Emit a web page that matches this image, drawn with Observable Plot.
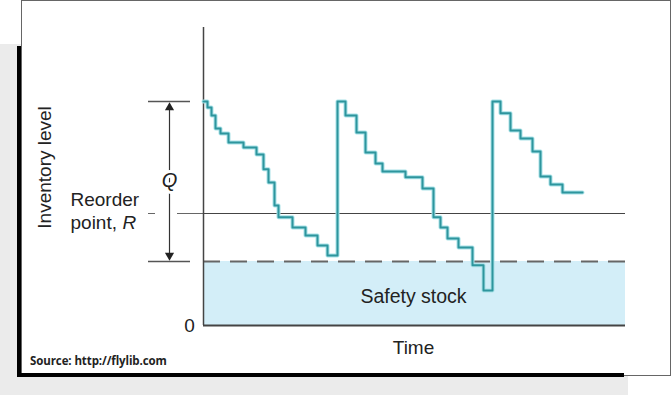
<!DOCTYPE html>
<html>
<head>
<meta charset="utf-8">
<script src="https://cdn.jsdelivr.net/npm/d3@7"></script>
<script src="https://cdn.jsdelivr.net/npm/@observablehq/plot@0.6"></script>
<style>
  html, body { margin: 0; padding: 0; background: #fff; }
  #wrap { position: relative; width: 671px; height: 395px; overflow: hidden; font-family: "Liberation Sans", Arial, sans-serif; }
  .abs { position: absolute; }
  #shadow { left: 0; top: 44px; width: 628px; height: 351px; background: #ebebeb; }
  #front { left: 21px; top: 0; width: 650px; height: 376px; border: 1px solid #666; box-sizing: border-box; background: #fff; }
  #barL { left: 17px; top: 46px; width: 4px; height: 331px; background: #000; }
  #barB { left: 17px; top: 373px; width: 607px; height: 4px; background: #000; }
  #source { left: 30px; top: 353px; font-family: "Open Sans", sans-serif; font-weight: 700; font-size: 11.5px; color: #222; letter-spacing: -0.1px; }
  #chart { left: 0; top: 0; }
</style>
</head>
<body>
<div id="wrap">
  <div id="shadow" class="abs"></div>
  <div id="front" class="abs"></div>
  <div id="barL" class="abs"></div>
  <div id="barB" class="abs"></div>
  <div id="source" class="abs">Source: http://flylib.com</div>
  <div id="chart" class="abs"></div>
</div>
<script>
// Inventory level over time (step function)
const times  = [0, 4, 8, 12, 17, 25, 40, 53, 60, 65, 71, 75, 89, 102, 114, 124,
                134, 142, 153, 162, 172, 179, 202, 219, 230, 237, 244, 255, 269, 280,
                289, 297, 307, 317, 329, 337, 347, 359, 379];
const levels = [70, 68.1, 65.6, 61.6, 60, 57.2, 55.6, 53.4, 48.8, 44.7, 37.5, 33.8, 30.6, 28.1, 25, 21.9,
                70, 65.6, 60.3, 54.1, 50.6, 48.1, 46.3, 42.8, 33.8, 30.6, 27.2, 24.4, 18.8, 10.9,
                70, 66.3, 60.9, 58.4, 54.4, 46.6, 44.1, 41.6, 41.6];
const safetyStock = 20;
const reorderPoint = 35;
const maxLevel = 70;   // safety stock + Q
const timeEnd = 422;
const yTop = 93.125;

const series = times.map((t, i) => ({t, v: levels[i]}));

const font = "Liberation Sans, Arial, sans-serif";
const ink = "#222";
const arrowX = -34;

const chart = Plot.plot({
  width: 671,
  height: 395,
  marginLeft: 203,
  marginRight: 46,
  marginTop: 27,
  marginBottom: 70,
  x: {domain: [0, timeEnd], axis: null},
  y: {domain: [0, yTop], axis: null},
  style: {background: "transparent", overflow: "visible", fontFamily: font},
  marks: [
    // safety stock band
    Plot.rect([{x1: 0, x2: timeEnd, y1: 0, y2: safetyStock}], {x1: "x1", x2: "x2", y1: "y1", y2: "y2", fill: "#d3eef8"}),
    // safety stock line
    Plot.ruleY([safetyStock], {x1: 0, x2: timeEnd, stroke: "#666", strokeWidth: 2, strokeDasharray: "17,10"}),
    Plot.ruleY([safetyStock], {x1: -55, x2: -13, stroke: "#555", strokeWidth: 1.5}),
    // reorder point line
    Plot.ruleY([reorderPoint], {x1: 0, x2: timeEnd, stroke: "#444", strokeWidth: 1}),
    Plot.ruleY([reorderPoint], {x1: -55, x2: -48, stroke: "#666", strokeWidth: 1}),
    Plot.ruleY([reorderPoint], {x1: -26, x2: 0, stroke: "#666", strokeWidth: 1}),
    // Q top line
    Plot.ruleY([maxLevel], {x1: -55, x2: -13, stroke: "#555", strokeWidth: 1.5}),
    // axis lines
    Plot.ruleX([0], {y1: 0, y2: yTop, stroke: "#444", strokeWidth: 1.5}),
    Plot.ruleY([0], {x1: 0, x2: timeEnd, stroke: "#444", strokeWidth: 2}),
    // Q double arrow
    Plot.ruleX([arrowX], {y1: safetyStock + 1, y2: maxLevel - 1, stroke: "#333", strokeWidth: 1.2}),
    Plot.dot([{x: arrowX, y: maxLevel - 1.9}], {x: "x", y: "y", symbol: "triangle", r: 3.4, fill: "#222", stroke: "none"}),
    Plot.dot([{x: arrowX, y: safetyStock + 1.9}], {x: "x", y: "y", symbol: "triangle", r: 3.4, rotate: 180, fill: "#222", stroke: "none"}),
    Plot.text([{x: arrowX, y: 45.3, s: "Q"}], {x: "x", y: "y", text: "s", fontSize: 20, fontStyle: "italic", fill: ink, stroke: "white", strokeWidth: 6}),
    // inventory line
    Plot.line(series, {x: "t", y: "v", curve: "step-after", stroke: "#a9e2e8", strokeWidth: 4}),
    Plot.line(series, {x: "t", y: "v", curve: "step-after", stroke: "#2e959d", strokeWidth: 2}),
    // labels
    Plot.text([{x: -159, y: 49.4, s: "Inventory level"}], {x: "x", y: "y", text: "s", rotate: -90, fontSize: 19, fill: ink}),
    Plot.text([{x: -133, y: 39.1, s: "Reorder"}], {x: "x", y: "y", text: "s", textAnchor: "start", fontSize: 19, fill: ink}),
    Plot.text([{x: -133, y: 32.2, s: "point, "}], {x: "x", y: "y", text: "s", textAnchor: "start", fontSize: 19, fill: ink}),
    Plot.text([{x: -81, y: 32.2, s: "R"}], {x: "x", y: "y", text: "s", textAnchor: "start", fontSize: 19, fontStyle: "italic", fill: ink}),
    Plot.text([{x: -14, y: 0, s: "0"}], {x: "x", y: "y", text: "s", fontSize: 19, fill: ink}),
    Plot.text([{x: 210, y: 9, s: "Safety stock"}], {x: "x", y: "y", text: "s", fontSize: 19.5, fill: ink}),
    Plot.text([{x: 210, y: -6.9, s: "Time"}], {x: "x", y: "y", text: "s", fontSize: 19, fill: ink})
  ]
});
document.getElementById("chart").appendChild(chart);
</script>
</body>
</html>
